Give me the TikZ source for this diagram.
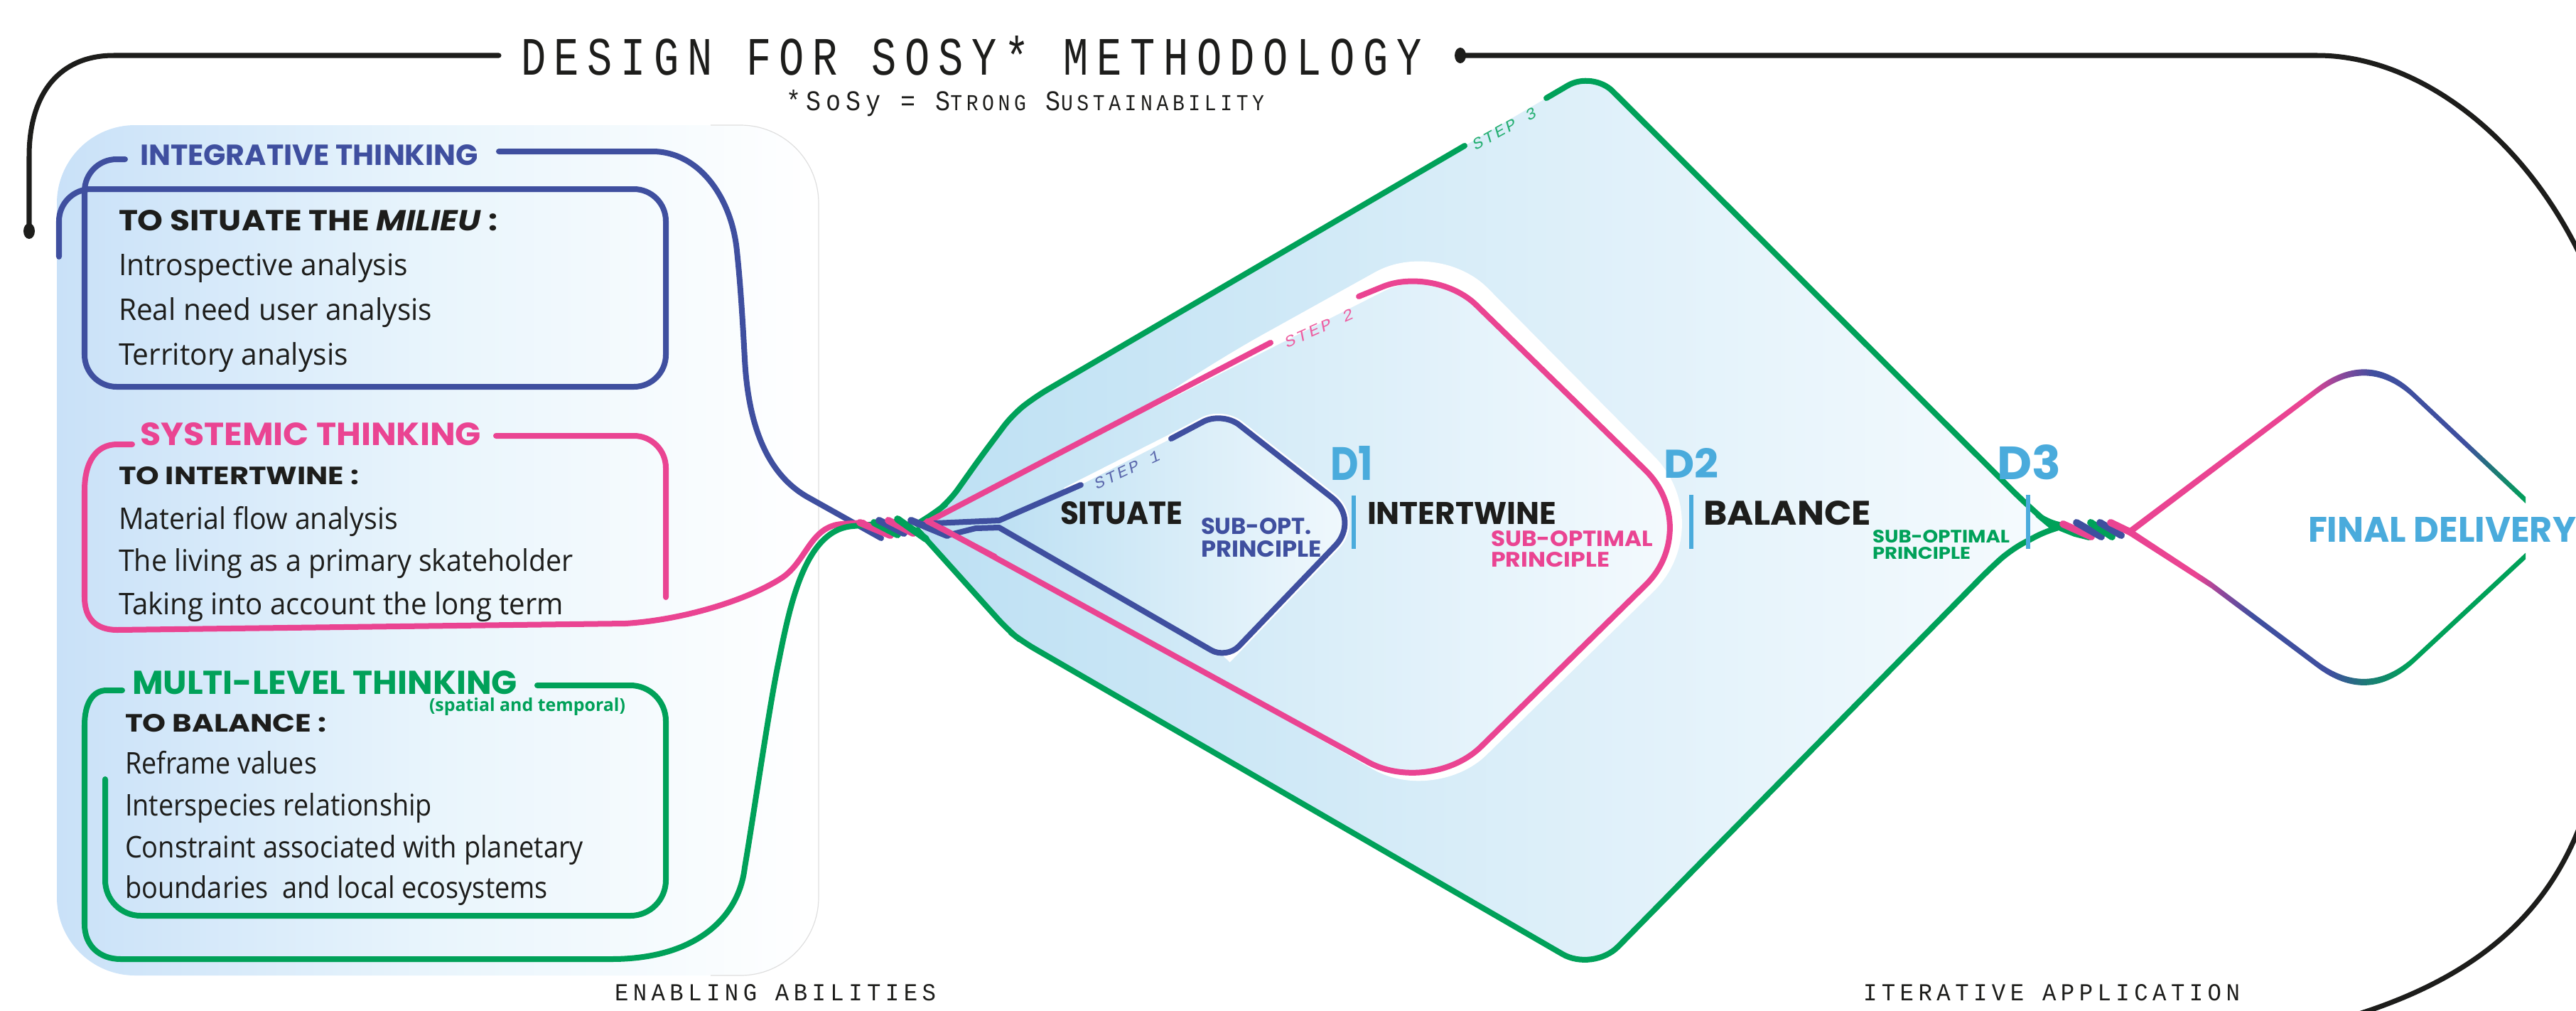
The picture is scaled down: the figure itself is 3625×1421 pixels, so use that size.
\documentclass[tikz,border=0pt]{standalone}
\usepackage{fontspec}
\usepackage{graphicx}
\usetikzlibrary{shapes.geometric}
\newfontfamily\tech{Poppins}
\newfontfamily\bodyf{Open Sans}
\newfontfamily\monof[LetterSpace=20]{Liberation Mono}
\newfontfamily\monoit[LetterSpace=12]{Liberation Mono Italic}
\newdimen\pxl \pxl=0.01cm
\newcommand{\TT}[3]{\resizebox{#1\pxl}{#2\pxl}{#3}}
\newcommand{\TS}[3]{\resizebox*{#1\pxl}{#2\pxl}{#3}}
\newcommand{\BT}[2]{\resizebox{#1\pxl}{\height}{\bodyf\fontsize{11.95pt}{14pt}\selectfont #2}}
\newcommand{\smc}[1]{{\fontsize{8}{8}\selectfont #1}}
\definecolor{cblue}{HTML}{3F4F9F}
\definecolor{cpink}{HTML}{EA4492}
\definecolor{cgreen}{HTML}{00A159}
\definecolor{csky}{HTML}{4AABDC}
\definecolor{cink}{HTML}{1D1D1B}
\definecolor{cpurple}{HTML}{93479B}
\definecolor{cteal}{HTML}{1D7A76}
\definecolor{panelL}{HTML}{C9E1F8}
\definecolor{panelM}{HTML}{E9F5FC}
\definecolor{fillL}{HTML}{BDE0F3}
\definecolor{fillR}{HTML}{F2F9FD}
\definecolor{fillG}{HTML}{F6FBFE}
\pgfdeclarehorizontalshading{upperR}{100bp}{color(0bp)=(cpink); color(47.6bp)=(cpink); color(51.3bp)=(cpurple); color(55.7bp)=(cblue); color(67.1bp)=(cblue); color(70.6bp)=(cteal); color(74.5bp)=(cgreen); color(100bp)=(cgreen)}
\pgfdeclarehorizontalshading{lowerR}{100bp}{color(0bp)=(cpink); color(33.8bp)=(cpink); color(36.8bp)=(cpurple); color(40.8bp)=(cblue); color(50.4bp)=(cblue); color(54.8bp)=(cteal); color(60.1bp)=(cgreen); color(100bp)=(cgreen)}
\tikzset{
  tline/.style={line width=0.08cm,line cap=round,line join=round},
  dline/.style={line width=0.08cm,line cap=round,line join=round},
  strand/.style={line width=0.1cm,line cap=round},
  blk/.style={line width=0.07cm,draw=cink},
  bar/.style={line width=0.065cm,draw=csky},
  txt/.style={inner sep=0pt,outer sep=0pt,anchor=south west},
  body/.style={inner sep=0pt,outer sep=0pt,anchor=base west,text=cink},
  dfill/.style={left color=#1,right color=fillG,draw=none},
}
\begin{document}
\begin{tikzpicture}[x=0.01cm,y=-0.01cm]
\useasboundingbox (0,0) rectangle (3625,1421);
% left panel
\path[rounded corners=1.1cm,left color=panelL,right color=white,middle color=panelM] (80,176) rectangle (1152,1372);
\draw[gray!25,line width=0.012cm,rounded corners=1.1cm] (1000,176) -- (1152,176) -- (1152,1372) -- (1000,1372);
% black frame lines
\draw[blk,line cap=round] (702,78) -- (160,78) .. controls (85,78) and (41,130) .. (41,220) -- (41,325);
\path[fill=cink] (41,325) ellipse (8 and 11);
\draw[blk] (2055,78) -- (3261,78) .. controls (3400,78) and (3560,190) .. (3645,390);
\path[fill=cink] (2055,78) ellipse (8 and 11);
\draw[blk] (3300,1432) .. controls (3510,1370) and (3610,1260) .. (3650,1100);
% diamond fills
\path[dfill=fillL,rounded corners=0.2cm] (1297,735) -- (1336,705) -- (1380,643) -- (1425,583) -- (1457,558)
  [rounded corners=0.4cm] -- (2241,100) -- (2859,717) [rounded corners=0.2cm] -- (2890,741) -- (2830,773) -- (2800,800)
  [rounded corners=0.5cm] -- (2242,1367) [rounded corners=0.2cm] -- (1438,902) -- (1419,887) -- (1291,745) -- cycle;
\fill[white] (1620,568) [rounded corners=1cm] -- (1688,520) -- (2023,334) [rounded corners=1.35cm] -- (2423,738) [rounded corners=1cm] -- (2020,1132) [sharp corners] -- (1700,950) -- cycle;
\path[dfill=fillL] (1303,735) [rounded corners=0.8cm] -- (2020,373) [rounded corners=1.15cm] -- (2398,742) [rounded corners=1cm] -- (2013,1120) [sharp corners] -- cycle;
\draw[white,line width=0.13cm] (1500,692) -- (1648,617) [rounded corners=0.3cm] -- (1720,579) [rounded corners=0.5cm] -- (1914,731) [rounded corners=0.25cm] -- (1726,927);
\path[left color=fillL,right color=fillR] (1403,737) -- (1521,682) -- (1648,617) [rounded corners=0.3cm] -- (1720,579) [rounded corners=0.5cm] -- (1914,731) [rounded corners=0.25cm] -- (1726,927) [sharp corners] -- cycle;
% integrative
\draw[tline,cblue,rounded corners=0.45cm] (83,361) -- (83,266) -- (937,266) -- (937,544) -- (119,544) -- (119,224) -- (176,224);
\draw[tline,cblue] (702,213) -- (918,213) .. controls (985,213) and (1030,280) .. (1037,353) .. controls (1042,400) and (1045,450) .. (1048,505) .. controls (1053,600) and (1080,668) .. (1138,700) -- (1240,757);
% systemic
\draw[tline,cpink,rounded corners=0.45cm] (698,613) -- (937,613) -- (937,840);
\draw[tline,cpink] (186,625) -- (165,625) .. controls (135,625) and (119,650) .. (119,690) -- (119,840) .. controls (119,870) and (135,886) .. (165,886) -- (880,877) .. controls (960,872) and (1050,845) .. (1100,813) .. controls (1135,790) and (1140,740) .. (1185,737) -- (1215,735);
% multilevel
\draw[tline,cgreen,rounded corners=0.5cm] (756,964) -- (937,964) -- (937,1288) -- (148,1288) -- (148,1096);
\draw[tline,cgreen] (172,971) -- (150,971) .. controls (130,971) and (119,990) .. (119,1020) -- (119,1300) .. controls (119,1330) and (140,1349) .. (170,1349) -- (860,1349) .. controls (980,1349) and (1040,1290) .. (1048,1220) .. controls (1060,1150) and (1080,1010) .. (1094,939) .. controls (1110,860) and (1130,745) .. (1200,740) -- (1235,737);
% diamond lines
\draw[dline,cgreen,rounded corners=0.2cm] (1290,737) -- (1315,722) -- (1336,705) -- (1380,643) -- (1425,583) -- (1457,558) -- (2061,205);
\draw[dline,cgreen] (2176,138) [rounded corners=0.4cm] -- (2241,100) -- (2859,717) [rounded corners=0.2cm] -- (2883,737) -- (2905,739);
\draw[dline,cgreen] (2905,740) [rounded corners=0.2cm] -- (2883,745) -- (2830,773) -- (2800,800) [rounded corners=0.5cm] -- (2242,1367) [rounded corners=0.2cm] -- (1438,902) -- (1419,887) -- (1291,745);
\draw[dline,cpink] (1300,737) -- (1788,482);
\draw[dline,cpink] (1912,417) [rounded corners=0.8cm] -- (2020,373) [rounded corners=1.15cm] -- (2398,742) [rounded corners=1cm] -- (2013,1120) [sharp corners] -- (1307,733);
\draw[tline,cblue] (1315,736) -- (1406,732) -- (1521,682);
\draw[tline,cblue] (1648,617) [rounded corners=0.3cm] -- (1720,579) [rounded corners=0.5cm] -- (1914,731) [rounded corners=0.25cm] -- (1726,927) [sharp corners] -- (1406,742) -- (1373,743) -- (1333,753);
% left braid
\draw[strand,cpink] (1210,735) -- (1253,753);
\draw[strand,cgreen] (1230,735) -- (1263,752);
\draw[strand,cblue] (1237,732) -- (1272,750);
\draw[strand,cpink] (1250,732) -- (1285,750);
\draw[strand,cgreen] (1263,730) -- (1303,758);
\draw[strand,cblue] (1282,732) -- (1333,753);
\draw[dline,cpink] (1305,733) -- (1400,783);
% right braid
\draw[strand,cgreen] (2900,742) -- (2920,750) -- (2940,755);
\draw[strand,cpink] (2903,737) -- (2943,755);
\draw[strand,cblue] (2922,735) -- (2957,755);
\draw[strand,cgreen] (2942,735) -- (2972,755);
\draw[strand,cblue] (2955,735) -- (2985,753);
\draw[strand,cpink] (2970,735) -- (2997,748);
% final diamond, colour running along the line
\begin{scope}
\clip (2995,744) -- (3261,544.5) .. controls (3309,508.5) and (3355,511.2) .. (3398,552.5) -- (3554,699) -- (3554,708) -- (3398,561.5) .. controls (3355,520.2) and (3309,517.5) .. (3261,553.5) -- (2999,752) -- cycle;
\shade[shading=upperR] (2990,400) rectangle (3560,1000);
\end{scope}
\begin{scope}
\clip (2995,752.5) -- (3112,827.5) -- (3260,938.5) .. controls (3308,974.5) and (3354,972.2) .. (3398,931.5) -- (3554,786.5) -- (3554,777.5) -- (3398,922.5) .. controls (3354,963.2) and (3308,965.5) .. (3260,929.5) -- (3112,818.5) -- (2999,744) -- cycle;
\shade[shading=lowerR] (2990,400) rectangle (3560,1000);
\end{scope}
% D bars
\draw[bar] (1905,697) -- (1905,772);
\draw[bar] (2380,696) -- (2380,772);
\draw[bar] (2854,696) -- (2854,772);
% title
\node[txt,text=cink] (title) at (733,106) {\TT{1268}{55}{\monof DESIGN FOR SOSY* METHODOLOGY}};
\node[txt,text=cink] (note) at (1106,164) {\TT{673}{29}{\monof *SoSy = S\smc{TRONG} S\smc{USTAINABILITY}}};
\node[txt,text=cink] (enab) at (865,1408) {\TT{452}{23}{\monof ENABLING ABILITIES}};
\node[txt,text=cink] (iter) at (2622,1408) {\TT{530}{23}{\monof ITERATIVE APPLICATION}};
% integrative text
\node[txt,text=cblue] (h1) at (197,233) {\TT{476}{29}{\tech\bfseries INTEGRATIVE THINKING}};
\node[txt,text=cink] (s1) at (167,325) {\TT{533}{29}{\tech\bfseries TO SITUATE THE \textit{MILIEU} :}};
\node[body] (a1) at (167,387) {\BT{407}{Introspective analysis}};
\node[body] (a2) at (167,450) {\BT{441}{Real need user analysis}};
\node[body] (a3) at (167,513) {\BT{323}{Territory analysis}};
% systemic text
\node[txt,text=cpink] (h2) at (197,627) {\TT{480}{32}{\tech\bfseries SYSTEMIC THINKING}};
\node[txt,text=cink] (s2) at (167,682) {\TT{338}{25}{\tech\bfseries TO INTERTWINE :}};
\node[body] (b1) at (167,744) {\BT{393}{Material flow analysis}};
\node[body] (b2) at (167,803) {\BT{640}{The living as a primary skateholder}};
\node[body] (b3) at (167,864) {\BT{626}{Taking into account the long term}};
% multilevel text
\node[txt,text=cgreen] (h3) at (186,977) {\TT{542}{33}{\tech\bfseries MULTI-LEVEL THINKING}};
\node[txt,text=cgreen] (h3s) at (604,1006) {\TS{276}{25}{\bodyf\bfseries (spatial and temporal)}};
\node[txt,text=cink] (s3) at (176,1030) {\TT{283}{25}{\tech\bfseries TO BALANCE :}};
\node[body] (c1) at (176,1088) {\BT{270}{Reframe values}};
\node[body] (c2) at (176,1147) {\BT{432}{Interspecies relationship}};
\node[body] (c3) at (176,1206) {\BT{645}{Constraint associated with planetary}};
\node[body] (c4) at (176,1263) {\BT{595}{boundaries\ \ and local ecosystems}};
% centre text
\node[txt,text=cink] (sit) at (1492,738) {\TT{172}{32}{\tech\bfseries SITUATE}};
\node[txt,text=cblue] (so1) at (1690,752) {\TT{156}{23}{\tech\bfseries SUB-OPT.}};
\node[txt,text=cblue] (so2) at (1690,784) {\TT{170}{23}{\tech\bfseries PRINCIPLE}};
\node[txt,text=csky] (d1) at (1872,675) {\TT{60}{48}{\tech\bfseries D1}};
\node[txt,text=cink] (int) at (1924,737) {\TT{266}{31}{\tech\bfseries INTERTWINE}};
\node[txt,text=cpink] (so3) at (2098,769) {\TT{228}{22}{\tech\bfseries SUB-OPTIMAL}};
\node[txt,text=cpink] (so4) at (2098,798) {\TT{167}{21}{\tech\bfseries PRINCIPLE}};
\node[txt,text=csky] (d2) at (2341,672) {\TT{77}{42}{\tech\bfseries D2}};
\node[txt,text=cink] (bal) at (2397,739) {\TT{236}{34}{\tech\bfseries BALANCE}};
\node[txt,text=cgreen] (so5) at (2635,764) {\TT{193}{18}{\tech\bfseries SUB-OPTIMAL}};
\node[txt,text=cgreen] (so6) at (2635,787) {\TT{138}{17}{\tech\bfseries PRINCIPLE}};
\node[txt,text=csky] (d3) at (2810,675) {\TT{90}{49}{\tech\bfseries D3}};
\node[txt,text=csky] (fin) at (3248,762) {\TT{377}{35}{\tech\bfseries FINAL DELIVERY}};
% step labels
\node[inner sep=0pt,rotate=25,text=cblue!85] (st1) at (1586,661) {\TT{100}{15}{\monoit STEP 1}};
\node[inner sep=0pt,rotate=24,text=cpink!85] (st2) at (1856,462) {\TT{104}{15}{\monoit STEP 2}};
\node[inner sep=0pt,rotate=29,text=cgreen!85] (st3) at (2117,181) {\TT{100}{15}{\monoit STEP 3}};
\end{tikzpicture}
\end{document}
